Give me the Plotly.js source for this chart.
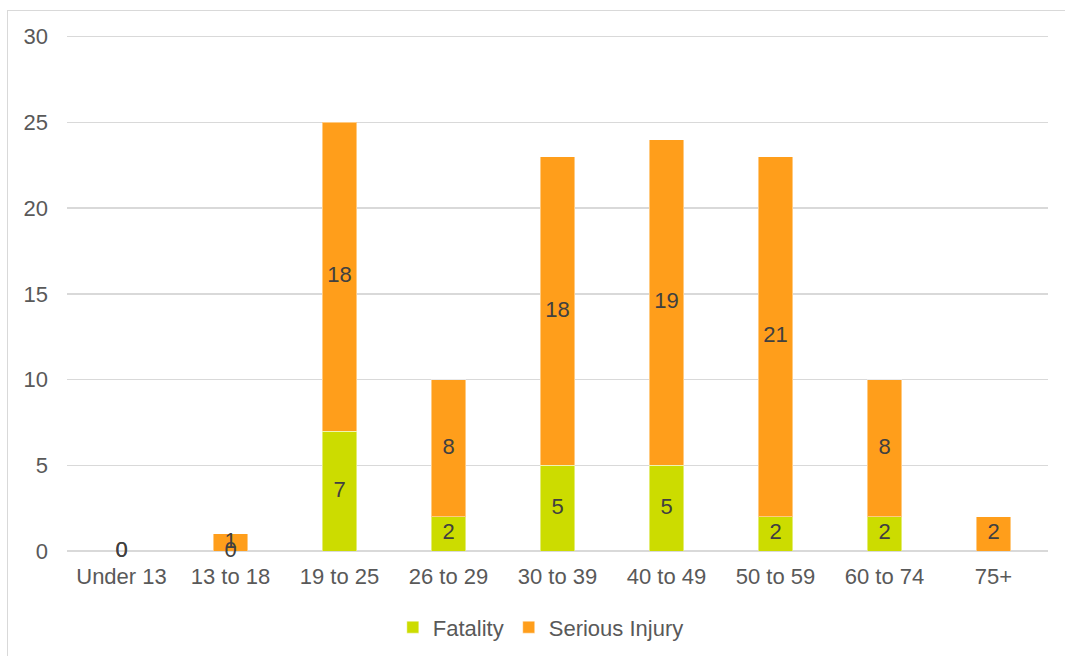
<!DOCTYPE html>
<html>
<head>
<meta charset="utf-8">
<script src="https://cdn.plot.ly/plotly-3.0.1.min.js"></script>
<style>
  html, body { margin: 0; padding: 0; background: #ffffff; }
  #frame {
    position: absolute; left: 7px; top: 10px; width: 1100px; height: 700px;
    border: 1px solid #D9D9D9; box-sizing: border-box;
  }
  #chart { position: absolute; left: 0; top: 0; width: 1065px; height: 656px; }
</style>
</head>
<body>
<div id="frame"></div>
<div id="chart"></div>
<script>
// Casualties by age group
const ageGroups = ['Under 13', '13 to 18', '19 to 25', '26 to 29', '30 to 39', '40 to 49', '50 to 59', '60 to 74', '75+'];
const fatality = [0, 0, 7, 2, 5, 5, 2, 2, null];
const seriousInjury = [0, 1, 18, 8, 18, 19, 21, 8, 2];
const yTicks = [0, 5, 10, 15, 20, 25, 30];

const colFatality = '#CCDC00';
const colSerious = '#FF9E1B';
const fontFamily = 'Liberation Sans, Arial, sans-serif';
const labelFont = { family: fontFamily, size: 22, color: '#404040' };

// label positions: middle of each stacked segment
const fatLabelY = fatality.map(v => (v === null ? null : v / 2));
const serLabelY = seriousInjury.map((v, i) => (fatality[i] || 0) + v / 2);

const barLine = { color: 'rgba(255,255,255,0.45)', width: 1 };

const traces = [
  {
    type: 'bar', name: 'Fatality', x: ageGroups, y: fatality,
    marker: { color: colFatality, line: barLine }, hoverinfo: 'skip'
  },
  {
    type: 'bar', name: 'Serious Injury', x: ageGroups, y: seriousInjury,
    marker: { color: colSerious, line: barLine }, hoverinfo: 'skip'
  },
  {
    type: 'scatter', mode: 'text', x: ageGroups, y: fatLabelY,
    text: fatality.map(v => (v === null ? '' : String(v))),
    textposition: 'middle center', textfont: labelFont,
    showlegend: false, hoverinfo: 'skip', cliponaxis: false
  },
  {
    type: 'scatter', mode: 'text', x: ageGroups, y: serLabelY,
    text: seriousInjury.map(v => String(v)),
    textposition: 'middle center', textfont: labelFont,
    showlegend: false, hoverinfo: 'skip', cliponaxis: false
  }
];

const layout = {
  width: 1065, height: 656,
  margin: { l: 67, r: 17, t: 35, b: 105, autoexpand: false },
  paper_bgcolor: 'rgba(0,0,0,0)',
  plot_bgcolor: 'rgba(0,0,0,0)',
  barmode: 'stack',
  bargap: 0.685,
  font: { family: fontFamily, size: 22, color: '#595959' },
  xaxis: {
    type: 'category', showgrid: false, showline: false, zeroline: false,
    ticks: '', ticklabelstandoff: 10,
    tickfont: { size: 22, color: '#595959' }
  },
  yaxis: {
    range: [0, 30.1], tickvals: yTicks, ticktext: yTicks.map(String),
    showgrid: true, gridcolor: '#D9D9D9', gridwidth: 1.5,
    zeroline: true, zerolinecolor: '#D9D9D9', zerolinewidth: 1.5,
    showline: false, ticks: '', ticklabelstandoff: 18,
    tickfont: { size: 22, color: '#595959' }
  },
  legend: {
    orientation: 'h', x: 0.483, xanchor: 'center', y: -0.148, yanchor: 'middle',
    font: { size: 22, color: '#595959' }, traceorder: 'normal',
    itemwidth: 30, bgcolor: 'rgba(0,0,0,0)'
  },
  showlegend: true
};

Plotly.newPlot('chart', traces, layout, { staticPlot: true, displayModeBar: false });
</script>
</body>
</html>
